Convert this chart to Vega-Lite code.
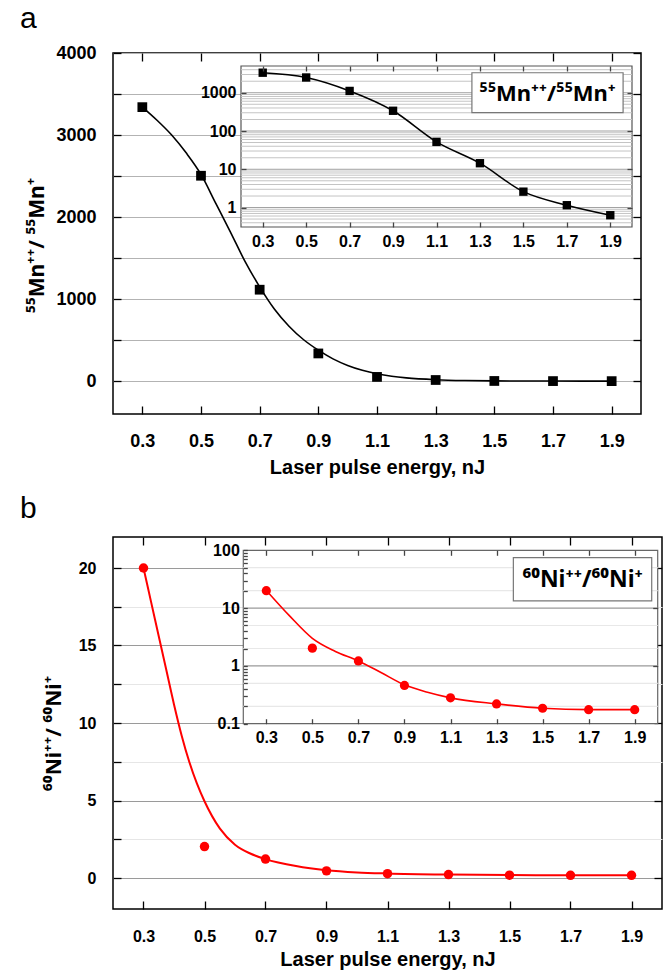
{
  "$schema": "https://vega.github.io/schema/vega-lite/v6.json",
  "padding": {"left": 19, "top": 3, "right": 0, "bottom": 0},
  "bounds": "flush",
  "spacing": 123,
  "datasets": {
    "mn": [
      {"energy": 0.3, "ratio": 3340}, {"energy": 0.5, "ratio": 2504}, {"energy": 0.7, "ratio": 1115},
      {"energy": 0.9, "ratio": 338}, {"energy": 1.1, "ratio": 52}, {"energy": 1.3, "ratio": 14.4},
      {"energy": 1.5, "ratio": 2.6}, {"energy": 1.7, "ratio": 1.15}, {"energy": 1.9, "ratio": 0.63}
    ],
    "mnfit": [
      {"energy": 0.3, "ratio": 3340}, {"energy": 0.35, "ratio": 3180}, {"energy": 0.4, "ratio": 3000},
      {"energy": 0.45, "ratio": 2780}, {"energy": 0.5, "ratio": 2520}, {"energy": 0.55, "ratio": 2170},
      {"energy": 0.6, "ratio": 1820}, {"energy": 0.65, "ratio": 1460}, {"energy": 0.7, "ratio": 1150},
      {"energy": 0.75, "ratio": 880}, {"energy": 0.8, "ratio": 670}, {"energy": 0.85, "ratio": 505},
      {"energy": 0.9, "ratio": 378}, {"energy": 0.95, "ratio": 272}, {"energy": 1.0, "ratio": 192},
      {"energy": 1.05, "ratio": 133}, {"energy": 1.1, "ratio": 90}, {"energy": 1.15, "ratio": 60},
      {"energy": 1.2, "ratio": 40}, {"energy": 1.3, "ratio": 18}, {"energy": 1.4, "ratio": 8},
      {"energy": 1.5, "ratio": 4}, {"energy": 1.6, "ratio": 2}, {"energy": 1.7, "ratio": 1.4},
      {"energy": 1.8, "ratio": 1}, {"energy": 1.9, "ratio": 0.6}
    ],
    "mngrid": [
      {"v": 0.4}, {"v": 0.5}, {"v": 0.6}, {"v": 0.7}, {"v": 0.8}, {"v": 0.9},
      {"v": 1}, {"v": 2}, {"v": 3}, {"v": 4}, {"v": 5}, {"v": 6}, {"v": 7}, {"v": 8}, {"v": 9},
      {"v": 10}, {"v": 20}, {"v": 30}, {"v": 40}, {"v": 50}, {"v": 60}, {"v": 70}, {"v": 80}, {"v": 90},
      {"v": 100}, {"v": 200}, {"v": 300}, {"v": 400}, {"v": 500}, {"v": 600}, {"v": 700}, {"v": 800}, {"v": 900},
      {"v": 1000}, {"v": 2000}, {"v": 3000}, {"v": 4000}
    ],
    "ni": [
      {"energy": 0.3, "ratio": 20.0}, {"energy": 0.5, "ratio": 2.03}, {"energy": 0.7, "ratio": 1.22},
      {"energy": 0.9, "ratio": 0.46}, {"energy": 1.1, "ratio": 0.28}, {"energy": 1.3, "ratio": 0.22},
      {"energy": 1.5, "ratio": 0.185}, {"energy": 1.7, "ratio": 0.175}, {"energy": 1.9, "ratio": 0.175}
    ],
    "nifit": [
      {"energy": 0.3, "ratio": 20.0}, {"energy": 0.325, "ratio": 17.8}, {"energy": 0.35, "ratio": 15.6},
      {"energy": 0.375, "ratio": 13.4}, {"energy": 0.4, "ratio": 11.2}, {"energy": 0.425, "ratio": 9.2},
      {"energy": 0.45, "ratio": 7.5}, {"energy": 0.475, "ratio": 6.1}, {"energy": 0.5, "ratio": 4.95},
      {"energy": 0.55, "ratio": 3.2}, {"energy": 0.6, "ratio": 2.15}, {"energy": 0.65, "ratio": 1.58},
      {"energy": 0.7, "ratio": 1.22}, {"energy": 0.8, "ratio": 0.77}, {"energy": 0.9, "ratio": 0.5},
      {"energy": 1.0, "ratio": 0.36}, {"energy": 1.1, "ratio": 0.29}, {"energy": 1.3, "ratio": 0.22},
      {"energy": 1.5, "ratio": 0.19}, {"energy": 1.7, "ratio": 0.178}, {"energy": 1.9, "ratio": 0.175}
    ],
    "niinsetfit": [
      {"energy": 0.3, "ratio": 20.2}, {"energy": 0.4, "ratio": 7.4}, {"energy": 0.5, "ratio": 3.0},
      {"energy": 0.6, "ratio": 1.78}, {"energy": 0.7, "ratio": 1.22}, {"energy": 0.8, "ratio": 0.76},
      {"energy": 0.9, "ratio": 0.47}, {"energy": 1.0, "ratio": 0.35}, {"energy": 1.1, "ratio": 0.28},
      {"energy": 1.3, "ratio": 0.22}, {"energy": 1.5, "ratio": 0.185}, {"energy": 1.7, "ratio": 0.175},
      {"energy": 1.9, "ratio": 0.175}
    ],
    "nigrid": [
      {"v": 0.2}, {"v": 0.5}, {"v": 1}, {"v": 2}, {"v": 5}, {"v": 10}, {"v": 20}, {"v": 50}
    ]
  },
  "vconcat": [
    {
      "width": 528,
      "height": 361,
      "title": {"text": "a", "offset": 10},
      "resolve": {"scale": {"x": "independent", "y": "independent"}, "axis": {"x": "independent", "y": "independent"}},
      "layer": [
        {
          "data": {"name": "mnfit"},
          "mark": {"type": "line", "color": "black", "strokeWidth": 1.6, "interpolate": "monotone"},
          "encoding": {
            "x": {"field": "energy", "type": "quantitative", "scale": {"domain": [0.2, 2.0], "nice": false, "zero": false},
              "axis": {"values": [0.3, 0.5, 0.7, 0.9, 1.1, 1.3, 1.5, 1.7, 1.9], "format": ".1f", "title": "Laser pulse energy, nJ",
                "labelFontSize": 18, "tickSize": -8, "labelPadding": 26, "titleFontSize": 20, "titlePadding": 7}},
            "y": {"field": "ratio", "type": "quantitative", "scale": {"domain": [-400, 4000], "nice": false, "zero": false},
              "axis": {"values": [0, 500, 1000, 1500, 2000, 2500, 3000, 3500, 4000], "format": "d",
                "labelExpr": "datum.value % 1000 === 0 ? datum.label : ''", "title": "⁵⁵Mn⁺⁺/ ⁵⁵Mn⁺", "titleFont": "Noto Sans",
                "labelFontSize": 18, "tickSize": -8, "labelPadding": 25, "titleFontSize": 21, "titlePadding": 8, "titleY": 192,
                "grid": true, "gridColor": "#b3b3b3", "gridWidth": 1.2}}
          }
        },
        {
          "data": {"name": "mn"},
          "mark": {"type": "point", "shape": "square", "filled": true, "color": "black", "size": 95, "opacity": 1},
          "encoding": {
            "x": {"field": "energy", "type": "quantitative", "scale": {"domain": [0.2, 2.0], "nice": false, "zero": false}, "axis": null},
            "y": {"field": "ratio", "type": "quantitative", "scale": {"domain": [-400, 4000], "nice": false, "zero": false}, "axis": null}
          }
        },
        {
          "data": {"name": "mn"},
          "mark": {"type": "point", "opacity": 0},
          "encoding": {
            "x": {"field": "energy", "type": "quantitative", "scale": {"domain": [0.2, 2.0], "nice": false, "zero": false},
              "axis": {"orient": "top", "values": [0.3, 0.5, 0.7, 0.9, 1.1, 1.3, 1.5, 1.7, 1.9], "labels": false, "tickSize": -8, "title": null}},
            "y": {"field": "ratio", "type": "quantitative", "scale": {"domain": [-400, 4000], "nice": false, "zero": false},
              "axis": {"orient": "right", "values": [0, 500, 1000, 1500, 2000, 2500, 3000, 3500, 4000], "labels": false, "tickSize": -8, "title": null}}
          }
        },
        {
          "data": {"values": [{}]},
          "mark": {"type": "rect", "fill": "white", "stroke": "#555555", "strokeWidth": 1.2},
          "encoding": {
            "x": {"datum": 0.2, "type": "quantitative", "scale": {"domain": [0.2, 2.0], "range": [128, 519], "nice": false, "zero": false},
              "axis": {"orient": "bottom", "offset": -187, "values": [0.3, 0.5, 0.7, 0.9, 1.1, 1.3, 1.5, 1.7, 1.9], "format": ".1f",
                "labelFontSize": 16, "tickSize": -5, "labelPadding": 11, "title": null, "zindex": 1, "tickColor": "#444444"}},
            "x2": {"datum": 2.0},
            "y": {"datum": 0.31, "type": "quantitative", "scale": {"type": "log", "domain": [0.31, 5000], "range": [174, 13], "nice": false},
              "axis": {"orient": "left", "offset": -128, "values": [1, 10, 100, 1000], "format": "d",
                "labelFontSize": 16, "tickSize": -5, "labelPadding": 10, "title": null, "zindex": 1, "tickColor": "#444444"}},
            "y2": {"datum": 5000}
          }
        },
        {
          "data": {"name": "mngrid"},
          "mark": {"type": "rule", "strokeWidth": 1},
          "encoding": {
            "x": {"datum": 0.2, "type": "quantitative", "scale": {"domain": [0.2, 2.0], "range": [128, 519], "nice": false, "zero": false}, "axis": null},
            "x2": {"datum": 2.0},
            "y": {"field": "v", "type": "quantitative", "scale": {"type": "log", "domain": [0.31, 5000], "range": [174, 13], "nice": false}, "axis": null},
            "color": {"condition": {"test": "indexof([1, 10, 100, 1000], datum.v) >= 0", "value": "#a0a0a0"}, "value": "#c4c4c4"}
          }
        },
        {
          "data": {"name": "mn"},
          "mark": {"type": "line", "color": "black", "strokeWidth": 1.5, "interpolate": "monotone"},
          "encoding": {
            "x": {"field": "energy", "type": "quantitative", "scale": {"domain": [0.2, 2.0], "range": [128, 519], "nice": false, "zero": false}, "axis": null},
            "y": {"field": "ratio", "type": "quantitative", "scale": {"type": "log", "domain": [0.31, 5000], "range": [174, 13], "nice": false}, "axis": null}
          }
        },
        {
          "data": {"name": "mn"},
          "mark": {"type": "point", "shape": "square", "filled": true, "color": "black", "size": 70, "opacity": 1},
          "encoding": {
            "x": {"field": "energy", "type": "quantitative", "scale": {"domain": [0.2, 2.0], "range": [128, 519], "nice": false, "zero": false}, "axis": null},
            "y": {"field": "ratio", "type": "quantitative", "scale": {"type": "log", "domain": [0.31, 5000], "range": [174, 13], "nice": false}, "axis": null}
          }
        },
        {
          "data": {"values": [{}]},
          "mark": {"type": "rect", "fill": "white", "stroke": "#777777", "strokeWidth": 1.2},
          "encoding": {
            "x": {"datum": 1.263, "type": "quantitative", "scale": {"domain": [0.2, 2.0], "range": [128, 519], "nice": false, "zero": false}, "axis": null},
            "x2": {"datum": 1.959},
            "y": {"datum": 300.6, "type": "quantitative", "scale": {"type": "log", "domain": [0.31, 5000], "range": [174, 13], "nice": false}, "axis": null},
            "y2": {"datum": 3327}
          }
        },
        {
          "data": {"values": [{}]},
          "mark": {"type": "text", "font": "Noto Sans", "fontWeight": "bold", "fontSize": 22, "color": "black", "align": "center", "baseline": "middle", "dy": 1},
          "encoding": {
            "x": {"datum": 1.611, "type": "quantitative", "scale": {"domain": [0.2, 2.0], "range": [128, 519], "nice": false, "zero": false}, "axis": null},
            "y": {"datum": 1000, "type": "quantitative", "scale": {"type": "log", "domain": [0.31, 5000], "range": [174, 13], "nice": false}, "axis": null},
            "text": {"value": "⁵⁵Mn⁺⁺/⁵⁵Mn⁺"}
          }
        },
        {
          "data": {"values": [{}]},
          "mark": {"type": "rect", "opacity": 0},
          "encoding": {
            "x": {"datum": 0.2, "type": "quantitative", "scale": {"domain": [0.2, 2.0], "range": [128, 519], "nice": false, "zero": false},
              "axis": {"orient": "top", "offset": -13, "values": [0.3, 0.5, 0.7, 0.9, 1.1, 1.3, 1.5, 1.7, 1.9], "labels": false, "tickSize": -5, "title": null, "zindex": 1, "tickColor": "#444444"}},
            "x2": {"datum": 2.0},
            "y": {"datum": 0.31, "type": "quantitative", "scale": {"type": "log", "domain": [0.31, 5000], "range": [174, 13], "nice": false},
              "axis": {"orient": "right", "offset": -9, "values": [1, 10, 100, 1000], "labels": false, "tickSize": -5, "title": null, "zindex": 1, "tickColor": "#444444"}},
            "y2": {"datum": 5000}
          }
        }
      ]
    },
    {
      "width": 549,
      "height": 372,
      "title": {"text": "b", "offset": 12},
      "resolve": {"scale": {"x": "independent", "y": "independent"}, "axis": {"x": "independent", "y": "independent"}},
      "layer": [
        {
          "data": {"name": "nifit"},
          "mark": {"type": "line", "color": "#ff0000", "strokeWidth": 2, "interpolate": "monotone"},
          "encoding": {
            "x": {"field": "energy", "type": "quantitative", "scale": {"domain": [0.2, 2.0], "nice": false, "zero": false},
              "axis": {"values": [0.3, 0.5, 0.7, 0.9, 1.1, 1.3, 1.5, 1.7, 1.9], "format": ".1f", "title": "Laser pulse energy, nJ",
                "labelFontSize": 16, "tickSize": -8, "labelPadding": 27, "titleFontSize": 20, "titlePadding": 5}},
            "y": {"field": "ratio", "type": "quantitative", "scale": {"domain": [-2, 22], "nice": false, "zero": false},
              "axis": {"values": [0, 2.5, 5, 7.5, 10, 12.5, 15, 17.5, 20], "format": "~g",
                "labelExpr": "datum.value % 5 === 0 ? datum.label : ''", "title": "⁶⁰Ni⁺⁺/ ⁶⁰Ni⁺", "titleFont": "Noto Sans",
                "labelFontSize": 16, "tickSize": -8, "labelPadding": 25, "titleFontSize": 21, "titlePadding": 14, "titleY": 196,
                "grid": true, "gridColor": {"condition": {"test": "datum.value % 5 === 0", "value": "#9a9a9a"}, "value": "#e6e6e6"}, "gridWidth": 1.2}}
          }
        },
        {
          "data": {"name": "ni"},
          "mark": {"type": "circle", "color": "#ff0000", "size": 90, "opacity": 1},
          "encoding": {
            "x": {"field": "energy", "type": "quantitative", "scale": {"domain": [0.2, 2.0], "nice": false, "zero": false}, "axis": null},
            "y": {"field": "ratio", "type": "quantitative", "scale": {"domain": [-2, 22], "nice": false, "zero": false}, "axis": null}
          }
        },
        {
          "data": {"name": "ni"},
          "mark": {"type": "point", "opacity": 0},
          "encoding": {
            "x": {"field": "energy", "type": "quantitative", "scale": {"domain": [0.2, 2.0], "nice": false, "zero": false},
              "axis": {"orient": "top", "values": [0.3, 0.5, 0.7, 0.9, 1.1, 1.3, 1.5, 1.7, 1.9], "labels": false, "tickSize": -8, "title": null}},
            "y": {"field": "ratio", "type": "quantitative", "scale": {"domain": [-2, 22], "nice": false, "zero": false},
              "axis": {"orient": "right", "values": [0, 5, 10, 15, 20], "labels": false, "tickSize": -8, "title": null}}
          }
        },
        {
          "data": {"values": [{}]},
          "mark": {"type": "rect", "fill": "white", "stroke": "#666666", "strokeWidth": 1.2},
          "encoding": {
            "x": {"datum": 0.2, "type": "quantitative", "scale": {"domain": [0.2, 2.0], "range": [130.3, 544.7], "nice": false, "zero": false},
              "axis": {"orient": "bottom", "offset": -185.3, "values": [0.3, 0.5, 0.7, 0.9, 1.1, 1.3, 1.5, 1.7, 1.9], "format": ".1f",
                "labelFontSize": 16, "tickSize": -5, "labelPadding": 11, "title": null, "zindex": 1, "tickColor": "#444444"}},
            "x2": {"datum": 2.0},
            "y": {"datum": 0.1, "type": "quantitative", "scale": {"type": "log", "domain": [0.1, 100], "range": [186.7, 13.3], "nice": false},
              "axis": {"orient": "left", "offset": -130.3,
                "values": [0.1, 0.2, 0.3, 0.4, 0.5, 0.6, 0.7, 0.8, 0.9, 1, 2, 3, 4, 5, 6, 7, 8, 9, 10, 20, 30, 40, 50, 60, 70, 80, 90, 100],
                "format": "~g", "labelExpr": "indexof([0.1, 1, 10, 100], datum.value) >= 0 ? datum.label : ''",
                "labelFontSize": 16, "tickSize": -4, "labelPadding": 8, "title": null, "zindex": 1, "tickColor": "#444444"}},
            "y2": {"datum": 100}
          }
        },
        {
          "data": {"name": "nigrid"},
          "mark": {"type": "rule", "strokeWidth": 1.2},
          "encoding": {
            "x": {"datum": 0.2, "type": "quantitative", "scale": {"domain": [0.2, 2.0], "range": [130.3, 544.7], "nice": false, "zero": false}, "axis": null},
            "x2": {"datum": 2.0},
            "y": {"field": "v", "type": "quantitative", "scale": {"type": "log", "domain": [0.1, 100], "range": [186.7, 13.3], "nice": false}, "axis": null},
            "color": {"condition": {"test": "datum.v === 1 || datum.v === 10", "value": "#9a9a9a"}, "value": "#e8e8e8"}
          }
        },
        {
          "data": {"name": "niinsetfit"},
          "mark": {"type": "line", "color": "#ff0000", "strokeWidth": 1.6, "interpolate": "monotone"},
          "encoding": {
            "x": {"field": "energy", "type": "quantitative", "scale": {"domain": [0.2, 2.0], "range": [130.3, 544.7], "nice": false, "zero": false}, "axis": null},
            "y": {"field": "ratio", "type": "quantitative", "scale": {"type": "log", "domain": [0.1, 100], "range": [186.7, 13.3], "nice": false}, "axis": null}
          }
        },
        {
          "data": {"name": "ni"},
          "mark": {"type": "circle", "color": "#ff0000", "size": 85, "opacity": 1},
          "encoding": {
            "x": {"field": "energy", "type": "quantitative", "scale": {"domain": [0.2, 2.0], "range": [130.3, 544.7], "nice": false, "zero": false}, "axis": null},
            "y": {"field": "ratio", "type": "quantitative", "scale": {"type": "log", "domain": [0.1, 100], "range": [186.7, 13.3], "nice": false}, "axis": null}
          }
        },
        {
          "data": {"values": [{}]},
          "mark": {"type": "rect", "fill": "white", "stroke": "#777777", "strokeWidth": 1.2},
          "encoding": {
            "x": {"datum": 1.373, "type": "quantitative", "scale": {"domain": [0.2, 2.0], "range": [130.3, 544.7], "nice": false, "zero": false}, "axis": null},
            "x2": {"datum": 1.974},
            "y": {"datum": 13.3, "type": "quantitative", "scale": {"type": "log", "domain": [0.1, 100], "range": [186.7, 13.3], "nice": false}, "axis": null},
            "y2": {"datum": 74.5}
          }
        },
        {
          "data": {"values": [{}]},
          "mark": {"type": "text", "font": "Noto Sans", "fontWeight": "bold", "fontSize": 23, "color": "black", "align": "center", "baseline": "middle", "dy": 1},
          "encoding": {
            "x": {"datum": 1.674, "type": "quantitative", "scale": {"domain": [0.2, 2.0], "range": [130.3, 544.7], "nice": false, "zero": false}, "axis": null},
            "y": {"datum": 31.4, "type": "quantitative", "scale": {"type": "log", "domain": [0.1, 100], "range": [186.7, 13.3], "nice": false}, "axis": null},
            "text": {"value": "⁶⁰Ni⁺⁺/⁶⁰Ni⁺"}
          }
        },
        {
          "data": {"values": [{}]},
          "mark": {"type": "rect", "opacity": 0},
          "encoding": {
            "x": {"datum": 0.2, "type": "quantitative", "scale": {"domain": [0.2, 2.0], "range": [130.3, 544.7], "nice": false, "zero": false},
              "axis": {"orient": "top", "offset": -13.3, "values": [0.3, 0.5, 0.7, 0.9, 1.1, 1.3, 1.5, 1.7, 1.9], "labels": false, "tickSize": -5, "title": null, "zindex": 1, "tickColor": "#444444"}},
            "x2": {"datum": 2.0},
            "y": {"datum": 0.1, "type": "quantitative", "scale": {"type": "log", "domain": [0.1, 100], "range": [186.7, 13.3], "nice": false},
              "axis": {"orient": "right", "offset": -4.3, "values": [1, 10], "labels": false, "tickSize": -5, "title": null, "zindex": 1, "tickColor": "#444444"}},
            "y2": {"datum": 100}
          }
        }
      ]
    }
  ],
  "config": {
    "font": "Liberation Sans",
    "view": {"stroke": "black", "strokeWidth": 1.5},
    "axis": {"labelFont": "Liberation Sans", "labelFontWeight": "bold", "labelColor": "black", "titleFont": "Liberation Sans",
      "titleFontWeight": "bold", "titleColor": "black", "tickColor": "black", "tickWidth": 1.3, "domain": false, "grid": false},
    "title": {"font": "Liberation Sans", "fontWeight": "normal", "color": "black", "fontSize": 30, "anchor": "start", "frame": "group", "dx": -93, "baseline": "alphabetic"}
  }
}
